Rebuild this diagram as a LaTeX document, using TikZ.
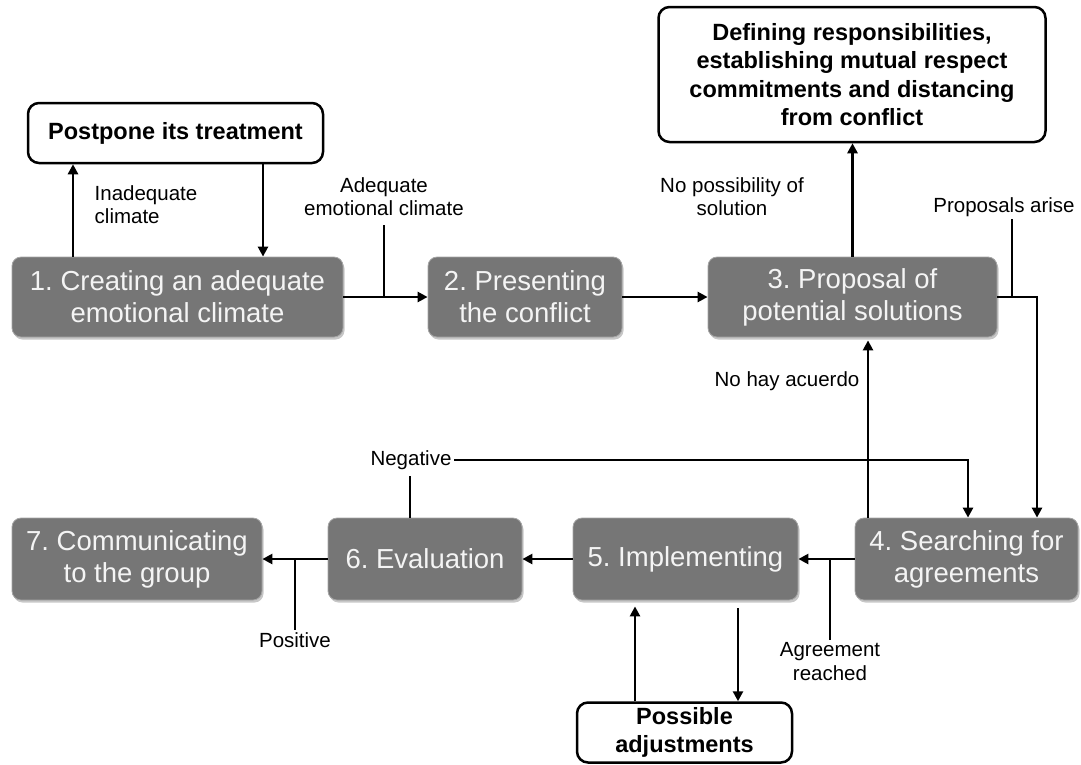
\documentclass[tikz,border=0pt]{standalone}
\usepackage{fontspec}
\setmainfont{Liberation Sans}
\frenchspacing
\usetikzlibrary{arrows.meta,shadows}
\definecolor{stepgray}{RGB}{118,118,118}
\definecolor{stepedge}{RGB}{165,165,165}
\definecolor{steptext}{RGB}{244,244,244}

\begin{document}
\begin{tikzpicture}[x=1pt,y=-1pt,
  stepbox/.style={rounded corners=9pt, fill=stepgray, draw=stepedge, line width=0.8pt,
    text=steptext, align=center, inner sep=0pt,
    font=\fontsize{27.5}{32}\selectfont,
    drop shadow={shadow xshift=1.5pt, shadow yshift=-2.5pt, fill=black!40, opacity=0.55}},
  notebox/.style={rounded corners=11pt, draw=black, line width=2.5pt, fill=white,
    align=center, inner sep=0pt, font=\fontsize{23.5}{28.5}\selectfont\bfseries},
  lbl/.style={align=center, inner sep=2.5pt, font=\fontsize{20.5}{23.5}\selectfont},
  conn/.style={line width=2.9pt, draw=black},
  arr/.style={conn, -{Triangle[length=10pt,width=10pt]}}]

\useasboundingbox (0,0) rectangle (1081,764);

% process steps
\node[stepbox, minimum width=331pt, minimum height=80pt] (b1) at (177.5,297) {1. Creating an adequate\\emotional climate};
\node[stepbox, minimum width=194pt, minimum height=80pt] (b2) at (525,297) {2. Presenting\\the conflict};
\node[stepbox, minimum width=289pt, minimum height=80pt] (b3) at (852.5,297) {3. Proposal of\\potential solutions};
\node[stepbox, minimum width=223pt, minimum height=82pt] (b4) at (966.5,559) {4. Searching for\\agreements};
\node[stepbox, minimum width=225pt, minimum height=82pt] (b5) at (685.5,559) {5. Implementing};
\node[stepbox, minimum width=194pt, minimum height=82pt] (b6) at (425,559) {6. Evaluation};
\node[stepbox, minimum width=250pt, minimum height=82pt] (b7) at (137,559) {7. Communicating\\to the group};

% outcome boxes
\node[notebox, minimum width=295pt, minimum height=60pt] (pp) at (175.5,133) {Postpone its treatment};
\node[notebox, minimum width=387pt, minimum height=135pt] (df) at (852,74.5)
  {Defining responsibilities,\\establishing mutual respect\\commitments and distancing\\from conflict};
\node[notebox, minimum width=215pt, minimum height=60pt] (ad) at (684.5,732.5) {Possible\\adjustments};

% condition labels
\node[lbl, align=left, anchor=west] (lin) at (92,204.5) {Inadequate\\climate};
\node[lbl] (lad) at (384,196.5) {Adequate\\emotional climate};
\node[lbl] (lnp) at (732,196.5) {No possibility of\\solution};
\node[lbl] (lpr) at (1004,207) {Proposals arise};
\node[lbl] (lna) at (787,381) {No hay acuerdo};
\node[lbl] (lng) at (411,460) {Negative};
\node[lbl] (lag) at (830,661.5) {Agreement\\reached};
\node[lbl] (lpo) at (295,640) {Positive};

% vertical routing columns
\coordinate (xa) at (73,0);
\coordinate (xb) at (263,0);
\coordinate (xp) at (1012,0);
\coordinate (xq) at (1037,0);
\coordinate (xn) at (868,0);
\coordinate (xg) at (410,0);
\coordinate (xs) at (968,0);
\coordinate (xu) at (635,0);
\coordinate (xd) at (738,0);

% connectors
\draw[arr] (b1.north -| xa) -- (pp.south -| xa);
\draw[arr] (pp.south -| xb) -- (b1.north -| xb);
\draw[arr] (b1.east) -- (b2.west);
\draw[conn] ([yshift=-7pt]lad.south) -- (lad.south |- b1.east);
\draw[arr] (b2.east) -- (b3.west);
\draw[arr] (b3.north) -- (b3.north |- df.south);
\draw[conn] (lpr.south -| xp) -- (b3.east -| xp);
\draw[arr] (b3.east) -- (b3.east -| xq) -- (b4.north -| xq);
\draw[arr, shorten >=3pt] (b4.north -| xn) -- (b3.south -| xn);
\draw[conn] (b6.north -| xg) -- ([yshift=-4pt]lng.south -| xg);
\draw[arr] (lng.east) -- (lng.east -| xs) -- (b4.north -| xs);
\draw[arr] (b4.west) -- (b5.east);
\draw[conn] (lag.north) -- (lag.north |- b5.east);
\draw[arr] (b5.west) -- (b6.east);
\draw[arr] (b6.west) -- (b7.east);
\draw[conn] (lpo.north) -- (lpo.north |- b6.west);
\draw[arr, shorten >=6pt] (ad.north -| xu) -- (b5.south -| xu);
\draw[arr, shorten <=8pt] (b5.south -| xd) -- (ad.north -| xd);
\end{tikzpicture}
\end{document}
